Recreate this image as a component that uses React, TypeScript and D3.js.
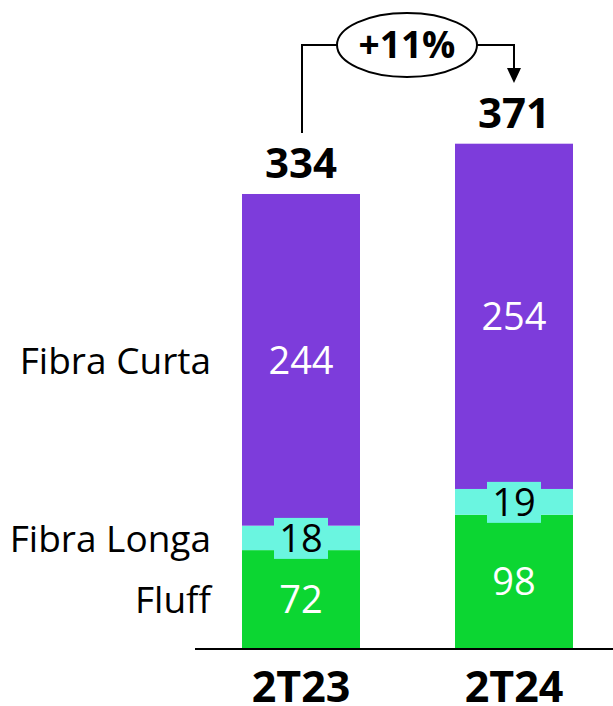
import { useEffect, useRef } from "react";
import * as d3 from "d3";

const periods = ["2T23", "2T24"];
const seriesNames = ["Fluff", "Fibra Longa", "Fibra Curta"];
const fluff = [72, 98];
const fibraLonga = [18, 19];
const fibraCurta = [244, 254];
const totals = [334, 371];
const changeLabel = "+11%";

const colors: Record<string, string> = {
  Fluff: "#0cd632",
  "Fibra Longa": "#6af5e0",
  "Fibra Curta": "#7d3cdb",
};
const textColors: Record<string, string> = {
  Fluff: "#ffffff",
  "Fibra Longa": "#000000",
  "Fibra Curta": "#ffffff",
};

export default function App() {
  const ref = useRef<SVGSVGElement | null>(null);

  useEffect(() => {
    if (!ref.current) return;
    const svg = d3.select(ref.current);
    svg.selectAll("*").remove();

    const width = 613;
    const font = "'Open Sans', sans-serif";

    const rows = periods.map((p, i) => ({
      period: p,
      Fluff: fluff[i],
      "Fibra Longa": fibraLonga[i],
      "Fibra Curta": fibraCurta[i],
    }));

    const x = d3.scaleBand<string>()
      .domain(periods)
      .range([242, 573])
      .paddingInner(0.446)
      .paddingOuter(0);

    const y = d3.scaleLinear()
      .domain([0, 400])
      .range([648, 648 - 400 * 1.3593]);

    const stacked = d3.stack<any>().keys(seriesNames)(rows);

    // bars
    const g = svg.append("g");
    stacked.forEach((layer) => {
      g.append("g")
        .attr("fill", colors[layer.key])
        .selectAll("rect")
        .data(layer)
        .join("rect")
        .attr("x", (d: any) => x(d.data.period)!)
        .attr("y", (d) => y(d[1]))
        .attr("width", x.bandwidth())
        .attr("height", (d) => y(d[0]) - y(d[1]));
    });

    // segment labels
    stacked.forEach((layer) => {
      const lg = svg.append("g");
      layer.forEach((d: any) => {
        const cx = x(d.data.period)! + x.bandwidth() / 2;
        const cy = (y(d[0]) + y(d[1])) / 2;
        const val = d[1] - d[0];
        if (layer.key === "Fibra Longa") {
          lg.append("rect")
            .attr("x", cx - 27)
            .attr("y", cy - 20)
            .attr("width", 54)
            .attr("height", 41)
            .attr("fill", colors[layer.key]);
        }
        lg.append("text")
          .attr("x", cx)
          .attr("y", cy + 14)
          .attr("text-anchor", "middle")
          .attr("font-family", font)
          .attr("font-size", 38)
          .attr("fill", textColors[layer.key])
          .text(val);
      });
    });

    // series names on the left, aligned with the first bar's segments
    stacked.forEach((layer) => {
      const d: any = layer[0];
      const cy = (y(d[0]) + y(d[1])) / 2;
      svg.append("text")
        .attr("x", 211)
        .attr("y", cy + 14)
        .attr("text-anchor", "end")
        .attr("font-family", font)
        .attr("font-size", 37)
        .attr("fill", "#000")
        .text(layer.key);
    });

    // baseline
    svg.append("line")
      .attr("x1", 195).attr("x2", width)
      .attr("y1", y(0) + 1).attr("y2", y(0) + 1)
      .attr("stroke", "#000").attr("stroke-width", 2);

    // category labels
    svg.append("g")
      .selectAll("text")
      .data(periods)
      .join("text")
      .attr("x", (p) => x(p)! + x.bandwidth() / 2)
      .attr("y", 702)
      .attr("text-anchor", "middle")
      .attr("font-family", font)
      .attr("font-weight", 700)
      .attr("font-size", 43)
      .attr("fill", "#000")
      .text((p) => p);

    // totals
    svg.append("g")
      .selectAll("text")
      .data(periods)
      .join("text")
      .attr("x", (p) => x(p)! + x.bandwidth() / 2)
      .attr("y", (p, i) => y(totals[i]) - 16)
      .attr("text-anchor", "middle")
      .attr("font-family", font)
      .attr("font-weight", 700)
      .attr("font-size", 42)
      .attr("fill", "#000")
      .text((p, i) => totals[i]);

    // growth annotation
    const x0 = x(periods[0])! + x.bandwidth() / 2 + 1;
    const x1 = x(periods[1])! + x.bandwidth() / 2;
    const lineY = 45;
    const ex = 407, erx = 70, ery = 32;
    svg.append("path")
      .attr("d", `M${x0},${y(totals[0]) - 61} V${lineY} H${ex - erx}`)
      .attr("fill", "none").attr("stroke", "#000").attr("stroke-width", 2);
    svg.append("path")
      .attr("d", `M${ex + erx},${lineY} H${x1} V${70}`)
      .attr("fill", "none").attr("stroke", "#000").attr("stroke-width", 2);
    svg.append("path")
      .attr("d", `M${x1 - 7},${68} L${x1 + 7},${68} L${x1},${83} Z`)
      .attr("fill", "#000");
    svg.append("ellipse")
      .attr("cx", ex).attr("cy", lineY)
      .attr("rx", erx).attr("ry", ery)
      .attr("fill", "#fff").attr("stroke", "#000").attr("stroke-width", 2);
    svg.append("text")
      .attr("x", ex).attr("y", lineY + 13)
      .attr("text-anchor", "middle")
      .attr("font-family", font)
      .attr("font-weight", 700)
      .attr("font-size", 37)
      .attr("fill", "#000")
      .text(changeLabel);
  }, []);

  return (
    <svg
      ref={ref}
      width={613}
      height={706}
      style={{ position: "absolute", left: 0, top: 0, background: "#fff" }}
    />
  );
}
